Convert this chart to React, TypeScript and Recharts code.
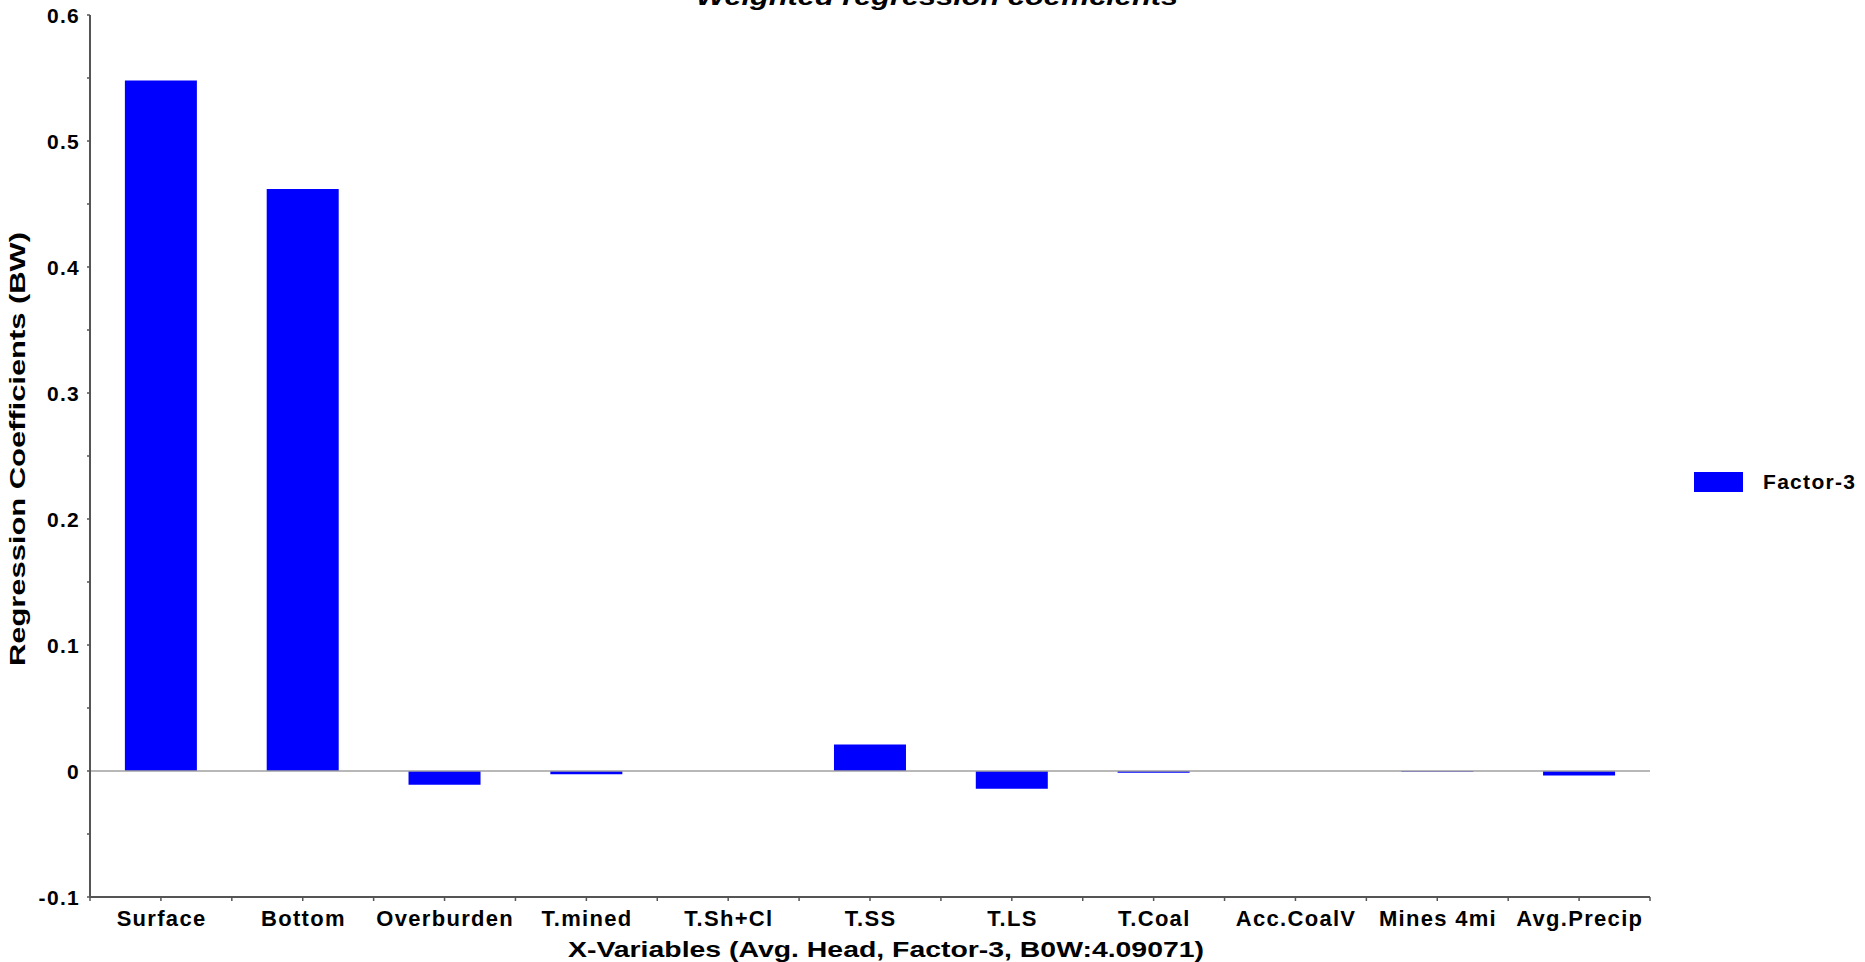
import React from 'react';
import { BarChart, Bar, XAxis, YAxis, ReferenceLine, Legend } from 'recharts';

// ---- data ----
const categories = [
  'Surface',
  'Bottom',
  'Overburden',
  'T.mined',
  'T.Sh+Cl',
  'T.SS',
  'T.LS',
  'T.Coal',
  'Acc.CoalV',
  'Mines 4mi',
  'Avg.Precip',
];
const factor3 = [0.548, 0.462, -0.011, -0.0025, 0, 0.021, -0.014, -0.0013, 0, -0.0005, -0.0035];
const yTickLabels = [-0.1, 0, 0.1, 0.2, 0.3, 0.4, 0.5, 0.6];
const seriesName = 'Factor-3';
const chartTitle = 'Weighted regression coefficients';
const xTitle = 'X-Variables (Avg. Head, Factor-3, B0W:4.09071)';
const yTitle = 'Regression Coefficients (BW)';

const data = categories.map((name, i) => ({ name, value: factor3[i] }));

// unlabeled minor ticks sit halfway between the labeled ones
const yTicks = [
  ...yTickLabels,
  ...yTickLabels.slice(1).map((t, i) => (t + yTickLabels[i]) / 2),
].sort((a, b) => a - b);

// ---- layout & styling ----
const FONT = "'Liberation Sans', Arial, Helvetica, sans-serif";
const AXIS_COLOR = '#555555';
const BAR_COLOR = '#0000FF';
const W = 1865;
const H = 962;
const MARGIN = { top: 15, right: 215, bottom: 0, left: 0 };
const Y_AXIS_WIDTH = 90;
const X_AXIS_HEIGHT = 65;
const TICK_LEN = 4;
const PLOT_WIDTH = W - MARGIN.left - MARGIN.right - Y_AXIS_WIDTH;
const BAND = PLOT_WIDTH / categories.length;

const isMajorY = (v: number) => yTickLabels.some((t) => Math.abs(t - v) < 1e-9);
const formatY = (v: number) => (Math.abs(v) < 1e-9 ? '0' : v.toFixed(1));

const YTick = (props: any) => {
  const { x, y, payload } = props;
  const v = payload.value as number;
  if (!isMajorY(v)) return null;
  return (
    <text
      x={x}
      y={y}
      dy={7.5}
      textAnchor="end"
      fontFamily={FONT}
      fontSize={21}
      fontWeight="bold"
      letterSpacing={1.3}
      fill="#000"
    >
      {formatY(v)}
    </text>
  );
};

// category label plus the small tick marks on the category boundaries
const XTick = (props: any) => {
  const { x, y, payload, index } = props;
  const half = BAND / 2;
  const top = y - TICK_LEN;
  return (
    <g>
      {index === 0 && (
        <line x1={x - half} x2={x - half} y1={top} y2={y} stroke={AXIS_COLOR} strokeWidth={1.5} />
      )}
      <line x1={x + half} x2={x + half} y1={top} y2={y} stroke={AXIS_COLOR} strokeWidth={1.5} />
      <text
        x={x + 0.65}
        y={y}
        dy={25}
        textAnchor="middle"
        fontFamily={FONT}
        fontSize={22}
        fontWeight="bold"
        letterSpacing={1.3}
        fill="#000"
      >
        {payload.value}
      </text>
    </g>
  );
};

const LegendContent = () => (
  <div style={{ display: 'flex', alignItems: 'center', height: 20 }}>
    <div style={{ width: 49, height: 20, background: BAR_COLOR }} />
    <span
      style={{
        marginLeft: 20,
        fontFamily: FONT,
        fontSize: 21,
        fontWeight: 'bold',
        letterSpacing: 1.3,
        color: '#000',
        whiteSpace: 'nowrap',
        lineHeight: '20px',
      }}
    >
      {seriesName}
    </span>
  </div>
);

export default function App() {
  return (
    <div style={{ position: 'absolute', left: 0, top: 0, width: W, height: H, background: '#fff' }}>
      <BarChart width={W} height={H} data={data} margin={MARGIN} barCategoryGap="24.6%">
        <XAxis
          dataKey="name"
          interval={0}
          height={X_AXIS_HEIGHT}
          tickSize={TICK_LEN}
          tickMargin={0}
          stroke={AXIS_COLOR}
          axisLine={{ stroke: AXIS_COLOR, strokeWidth: 2 }}
          tickLine={{ stroke: AXIS_COLOR, strokeWidth: 1.5 }}
          tick={<XTick />}
          label={{
            content: () => (
              <text
                x={886}
                y={957}
                textAnchor="middle"
                fontFamily={FONT}
                fontSize={22}
                fontWeight="bold"
                fill="#000"
                textLength={636}
                lengthAdjust="spacingAndGlyphs"
              >
                {xTitle}
              </text>
            ),
          }}
        />
        <YAxis
          type="number"
          domain={[-0.1, 0.6]}
          ticks={yTicks}
          interval={0}
          width={Y_AXIS_WIDTH}
          tickSize={3}
          tickMargin={7}
          stroke={AXIS_COLOR}
          axisLine={{ stroke: AXIS_COLOR, strokeWidth: 2 }}
          tickLine={{ stroke: AXIS_COLOR, strokeWidth: 1.5 }}
          tick={<YTick />}
          allowDataOverflow
          label={{
            content: () => (
              <text
                x={25}
                y={449}
                transform="rotate(-90, 25, 449)"
                textAnchor="middle"
                fontFamily={FONT}
                fontSize={22}
                fontWeight="bold"
                fill="#000"
                textLength={434}
                lengthAdjust="spacingAndGlyphs"
              >
                {yTitle}
              </text>
            ),
          }}
        />
        <Bar dataKey="value" name={seriesName} fill={BAR_COLOR} isAnimationActive={false} />
        <ReferenceLine y={0} stroke="#a0a0a0" strokeWidth={1.5} />
        <Legend
          layout="vertical"
          align="center"
          verticalAlign="middle"
          content={<LegendContent />}
          wrapperStyle={{ left: 1694, top: 472, width: 171, height: 20 }}
        />
      </BarChart>
      <svg
        width={W}
        height={40}
        style={{ position: 'absolute', left: 0, top: 0, pointerEvents: 'none' }}
      >
        <text
          x={937}
          y={5}
          textAnchor="middle"
          fontFamily={FONT}
          fontSize={24}
          fontWeight="bold"
          fontStyle="italic"
          fill="#000"
          textLength={482}
          lengthAdjust="spacingAndGlyphs"
        >
          {chartTitle}
        </text>
      </svg>
    </div>
  );
}
